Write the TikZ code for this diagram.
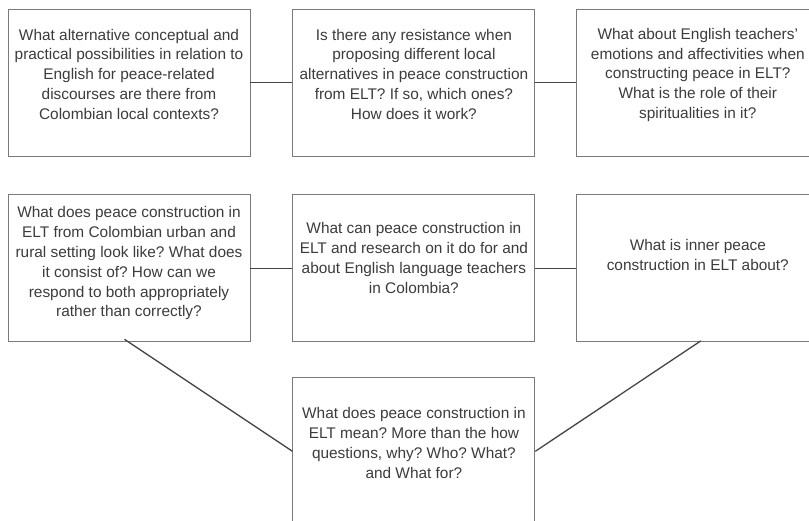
\documentclass[tikz,border=0pt]{standalone}
\usepackage{fontspec}
\setmainfont{Liberation Sans}
\usetikzlibrary{positioning}
\frenchspacing
\definecolor{boxline}{HTML}{7A7A7A}
\definecolor{boxtext}{HTML}{3C3C3C}
\definecolor{linkline}{HTML}{454545}
% text block of a box: #1 = space above the first line
\newcommand{\qtext}[2]{\begin{minipage}[t][141pt][t]{236pt}\centering\vspace*{#1}#2\end{minipage}}
\tikzset{
    question/.style={draw=boxline, line width=0.9pt, text=boxtext,
        inner sep=3pt, font=\fontsize{15.4}{19.8}\selectfont},
    link/.style={draw=linkline, line width=1.3pt}
}
\begin{document}
\begin{tikzpicture}[x=1pt, y=-1pt]
    \useasboundingbox (0,0) rectangle (809,520);
    \fill[white] (0,0) rectangle (809,520);
    \clip (0,0) rectangle (809,520);

    % top row
    \node[question] (alt) at (129,82.5) {\qtext{16.9pt}{What alternative conceptual and\\practical possibilities in relation to\\English for peace-related\\discourses are there from\\Colombian local contexts?}};
    \node[question, right=42pt of alt] (resist) {\qtext{16.9pt}{Is there any resistance when\\proposing different local\\alternatives in peace construction\\from ELT? If so, which ones?\\How does it work?}};
    \node[question, right=41pt of resist] (emot) {\qtext{16.2pt}{What about English teachers'\\emotions and affectivities when\\constructing peace in ELT?\\What is the role of their\\spiritualities in it?}};

    % middle row
    \node[question, below=38pt of alt] (rural) {\qtext{8.9pt}{What does peace construction in\\ELT from Colombian urban and\\rural setting look like? What does\\it consist of? How can we\\respond to both appropriately\\rather than correctly?}};
    \node[question, below=38pt of resist] (research) {\qtext{24.9pt}{What can peace construction in\\ELT and research on it do for and\\about English language teachers\\in Colombia?}};
    \node[question, below=38pt of emot] (inner) {\qtext{41.6pt}{What is inner peace\\construction in ELT about?}};

    % bottom
    \node[question, below=35pt of research] (meaning) {\qtext{26.9pt}{What does peace construction in\\ELT mean? More than the how\\questions, why? Who? What?\\and What for?}};

    \draw[link] (alt) -- (resist);
    \draw[link] (resist) -- (emot);
    \draw[link] (rural) -- (research);
    \draw[link] (research) -- (inner);
    \draw[link] ([xshift=-4.5pt,yshift=3pt]rural.south) -- (meaning.west);
    \draw[link] ([xshift=3pt,yshift=1.5pt]inner.south) -- (meaning.east);
\end{tikzpicture}
\end{document}
